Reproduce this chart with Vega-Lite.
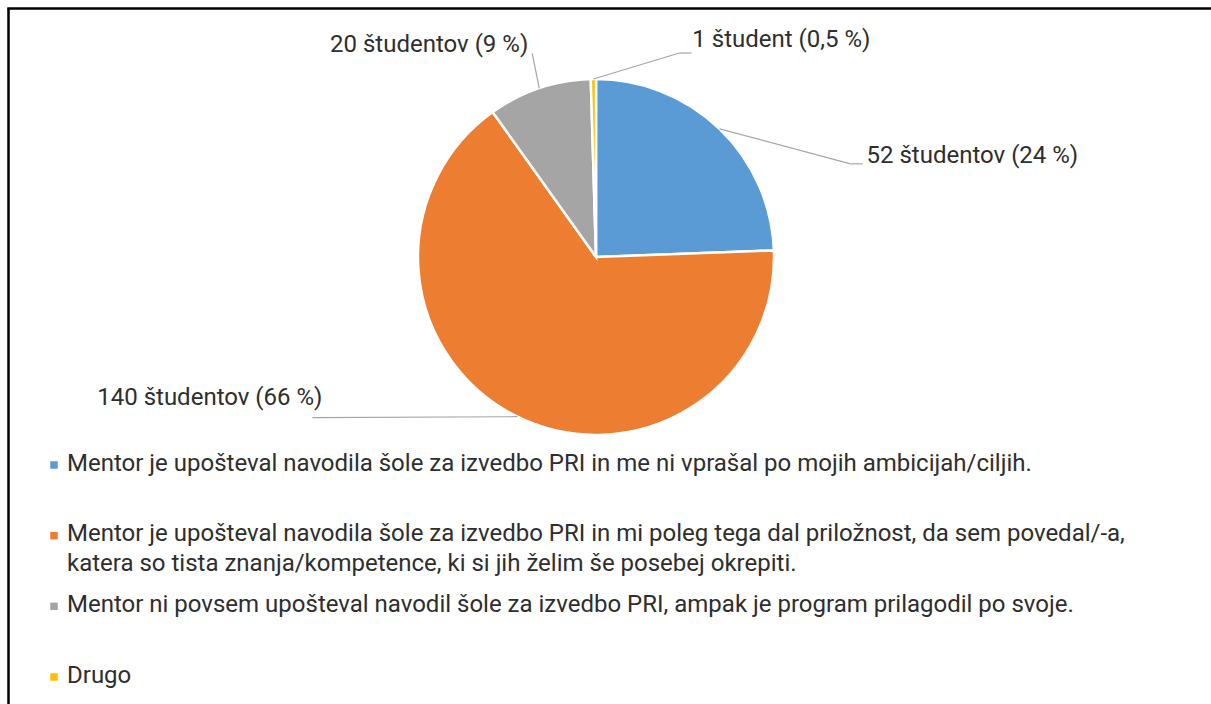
{
  "$schema": "https://vega.github.io/schema/vega-lite/v6.json",
  "width": 1211,
  "height": 704,
  "autosize": "none",
  "padding": 0,
  "background": "white",
  "config": {
    "view": {"stroke": null},
    "text": {"font": "Roboto", "fontSize": 24, "fill": "#2e2e2e"}
  },
  "datasets": {
    "slices": [
      {"order": 1, "category": "Mentor je upošteval navodila šole za izvedbo PRI in me ni vprašal po mojih ambicijah/ciljih.", "count": 52, "label": "52 študentov (24 %)"},
      {"order": 2, "category": "Mentor je upošteval navodila šole za izvedbo PRI in mi poleg tega dal priložnost, da sem povedal/-a, katera so tista znanja/kompetence, ki si jih želim še posebej okrepiti.", "count": 140, "label": "140 študentov (66 %)"},
      {"order": 3, "category": "Mentor ni povsem upošteval navodil šole za izvedbo PRI, ampak je program prilagodil po svoje.", "count": 20, "label": "20 študentov (9 %)"},
      {"order": 4, "category": "Drugo", "count": 1, "label": "1 študent (0,5 %)"}
    ]
  },
  "data": {"name": "slices"},
  "resolve": {"scale": {"y": "independent"}},
  "layer": [
    {
      "layer": [
        {
          "data": {"values": [{}]},
          "mark": {"type": "rule", "stroke": "black", "strokeWidth": 2.5},
          "encoding": {
            "x": {"datum": -587.5, "type": "quantitative", "scale": {"domain": [-596, 615], "nice": false, "zero": false}, "axis": null},
            "y": {"datum": 248.5, "type": "quantitative", "scale": {"domain": [-447, 257], "nice": false, "zero": false}, "axis": null},
            "y2": {"datum": -447}
          }
        },
        {
          "data": {"values": [{}]},
          "mark": {"type": "rule", "stroke": "black", "strokeWidth": 2.5},
          "encoding": {
            "x": {"datum": -588.7, "type": "quantitative", "scale": {"domain": [-596, 615], "nice": false, "zero": false}, "axis": null},
            "x2": {"datum": 615},
            "y": {"datum": 248.5, "type": "quantitative", "scale": {"domain": [-447, 257], "nice": false, "zero": false}, "axis": null}
          }
        },
        {
          "mark": {"type": "arc", "outerRadius": 178, "stroke": "white", "strokeWidth": 2.5},
          "encoding": {
            "theta": {"field": "count", "type": "quantitative", "stack": true},
            "order": {"field": "order", "type": "quantitative"},
            "color": {
              "field": "category", "type": "nominal", "legend": null,
              "scale": {
                "domain": [
                  "Mentor je upošteval navodila šole za izvedbo PRI in me ni vprašal po mojih ambicijah/ciljih.",
                  "Mentor je upošteval navodila šole za izvedbo PRI in mi poleg tega dal priložnost, da sem povedal/-a, katera so tista znanja/kompetence, ki si jih želim še posebej okrepiti.",
                  "Mentor ni povsem upošteval navodil šole za izvedbo PRI, ampak je program prilagodil po svoje.",
                  "Drugo"
                ],
                "range": ["#5B9BD5", "#ED7D31", "#A5A5A5", "#FFC000"]
              }
            },
            "x": {"datum": 0, "type": "quantitative", "scale": {"domain": [-596, 615], "nice": false, "zero": false}, "axis": null},
            "y": {"datum": 0, "type": "quantitative", "scale": {"domain": [-447, 257], "nice": false, "zero": false}, "axis": null}
          }
        },
        {
          "transform": [
            {"window": [{"op": "sum", "field": "count", "as": "cum"}], "sort": [{"field": "order"}], "frame": [null, 0]},
            {"joinaggregate": [{"op": "sum", "field": "count", "as": "total"}]},
            {"calculate": "2*PI*(datum.cum - datum.count/2)/datum.total", "as": "mid"},
            {"calculate": "178*sin(datum.mid)", "as": "ax"},
            {"calculate": "178*cos(datum.mid)", "as": "ay"}
          ],
          "encoding": {
            "x": {"field": "ax", "type": "quantitative", "scale": {"domain": [-596, 615], "nice": false, "zero": false}, "axis": null},
            "y": {"field": "ay", "type": "quantitative", "scale": {"domain": [-447, 257], "nice": false, "zero": false}, "axis": null}
          },
          "layer": [
            {
              "transform": [{"filter": "datum.order == 1"}],
              "layer": [
                {"mark": {"type": "rule", "stroke": "#a6a6a6", "strokeWidth": 1.2, "x2Offset": 131, "y2Offset": 35}, "encoding": {"x2": {"field": "ax"}, "y2": {"field": "ay"}}},
                {"mark": {"type": "rule", "stroke": "#a6a6a6", "strokeWidth": 1.2, "xOffset": 131, "yOffset": 35, "x2Offset": 143, "y2Offset": 35}, "encoding": {"x2": {"field": "ax"}, "y2": {"field": "ay"}}},
                {"mark": {"type": "text", "align": "left", "baseline": "middle", "dx": 147, "dy": 27}, "encoding": {"text": {"field": "label"}}}
              ]
            },
            {
              "transform": [{"filter": "datum.order == 2"}],
              "layer": [
                {"mark": {"type": "rule", "stroke": "#a6a6a6", "strokeWidth": 1.2, "x2Offset": -205, "y2Offset": 1}, "encoding": {"x2": {"field": "ax"}, "y2": {"field": "ay"}}},
                {"mark": {"type": "text", "align": "right", "baseline": "middle", "dx": -195, "dy": -19}, "encoding": {"text": {"field": "label"}}}
              ]
            },
            {
              "transform": [{"filter": "datum.order == 3"}],
              "layer": [
                {"mark": {"type": "rule", "stroke": "#a6a6a6", "strokeWidth": 1.2, "x2Offset": -7, "y2Offset": -35}, "encoding": {"x2": {"field": "ax"}, "y2": {"field": "ay"}}},
                {"mark": {"type": "text", "align": "right", "baseline": "middle", "dx": -11, "dy": -43}, "encoding": {"text": {"field": "label"}}}
              ]
            },
            {
              "transform": [{"filter": "datum.order == 4"}],
              "layer": [
                {"mark": {"type": "rule", "stroke": "#a6a6a6", "strokeWidth": 1.2, "x2Offset": 86, "y2Offset": -26}, "encoding": {"x2": {"field": "ax"}, "y2": {"field": "ay"}}},
                {"mark": {"type": "rule", "stroke": "#a6a6a6", "strokeWidth": 1.2, "xOffset": 86, "yOffset": -26, "x2Offset": 98, "y2Offset": -26}, "encoding": {"x2": {"field": "ax"}, "y2": {"field": "ay"}}},
                {"mark": {"type": "text", "align": "left", "baseline": "middle", "dx": 99, "dy": -39}, "encoding": {"text": {"field": "label"}}}
              ]
            }
          ]
        }
      ]
    },
    {
      "encoding": {
        "y": {
          "field": "category", "type": "ordinal", "axis": null,
          "scale": {
            "type": "point",
            "padding": 0,
            "domain": [
              "Mentor je upošteval navodila šole za izvedbo PRI in me ni vprašal po mojih ambicijah/ciljih.",
              "Mentor je upošteval navodila šole za izvedbo PRI in mi poleg tega dal priložnost, da sem povedal/-a, katera so tista znanja/kompetence, ki si jih želim še posebej okrepiti.",
              "Mentor ni povsem upošteval navodil šole za izvedbo PRI, ampak je program prilagodil po svoje.",
              "Drugo"
            ],
            "range": [465, 677]
          }
        }
      },
      "layer": [
        {
          "mark": {"type": "point", "shape": "square", "filled": true, "size": 56, "opacity": 1},
          "encoding": {
            "x": {"datum": -542, "type": "quantitative", "scale": {"domain": [-596, 615], "nice": false, "zero": false}, "axis": null},
            "color": {"field": "category", "type": "nominal", "legend": null}
          }
        },
        {
          "transform": [{"calculate": "replace(datum.category, ', katera', ',\\nkatera')", "as": "legendText"}],
          "mark": {"type": "text", "align": "left", "baseline": "top", "dy": -13.5, "lineBreak": "\n", "lineHeight": 30},
          "encoding": {
            "x": {"datum": -529, "type": "quantitative", "scale": {"domain": [-596, 615], "nice": false, "zero": false}, "axis": null},
            "text": {"field": "legendText"}
          }
        }
      ]
    }
  ]
}
